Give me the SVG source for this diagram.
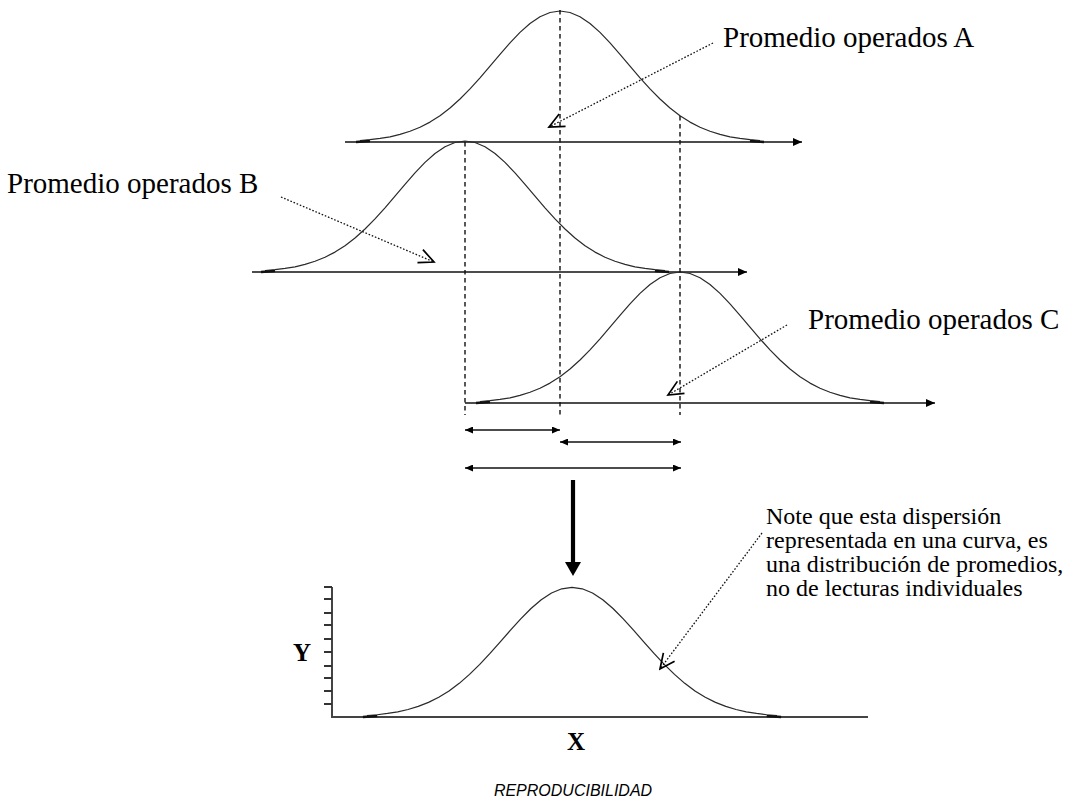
<svg xmlns="http://www.w3.org/2000/svg" xmlns:xlink="http://www.w3.org/1999/xlink" width="1067" height="799" viewBox="0 0 1067 799">
<style>
  .bg{fill:#ffffff}
  .curve{fill:none;stroke:#2a2a2a;stroke-width:1.2;stroke-linejoin:round}
  .tail{fill:none;stroke:#111;stroke-width:2.6}
  .axis{fill:none;stroke:#111;stroke-width:1.5}
  .axis2{fill:none;stroke:#444;stroke-width:2}
  .tick{fill:none;stroke:#333;stroke-width:1.8}
  .dash{fill:none;stroke:#111;stroke-width:1.4;stroke-dasharray:4.5 3.5}
  .dim{fill:none;stroke:#111;stroke-width:1.4}
  .leader{fill:none;stroke:#111;stroke-width:1.3;stroke-dasharray:1.6 1.8}
  text.serif{font-family:"Liberation Serif","Times New Roman",serif;fill:#000}
  .big{font-size:29px}
  .note{font-size:24px}
  .axl{font-size:25px;font-weight:bold}
  text.title{font-family:"Liberation Sans",Arial,sans-serif;font-size:16px;font-style:italic;fill:#000}
</style>
<defs>
  <path id="gauss" class="curve" d="M-200,-1.5 L-190,-2.3 -180,-3.6 -170,-5.2 -160,-7.6 -150,-10.7 -140,-14.8 -130,-19.9 -120,-26.3 -110,-34 -100,-43 -90,-53.1 -80,-64.2 -70,-75.9 -60,-87.7 -50,-99.2 -40,-109.6 -30,-118.5 -20,-125.3 -10,-129.5 0,-131 10,-129.5 20,-125.3 30,-118.5 40,-109.6 50,-99.2 60,-87.7 70,-75.9 80,-64.2 90,-53.1 100,-43 110,-34 120,-26.3 130,-19.9 140,-14.8 150,-10.7 160,-7.6 170,-5.2 180,-3.6 190,-2.3 200,-1.5"/>
  <path id="tails" class="tail" d="M-204,0 L-190,-1 M190,-1 L204,0"/>
  <marker id="tri" markerUnits="userSpaceOnUse" viewBox="0 0 9 8" refX="9" refY="4" markerWidth="9" markerHeight="8" orient="auto-start-reverse">
    <path d="M0,0 L9,4 L0,8 z" fill="#000"/>
  </marker>
  <marker id="triS" markerUnits="userSpaceOnUse" viewBox="0 0 8 7" refX="8" refY="3.5" markerWidth="8" markerHeight="7" orient="auto-start-reverse">
    <path d="M0,0 L8,3.5 L0,7 z" fill="#000"/>
  </marker>
  <marker id="open" markerUnits="userSpaceOnUse" viewBox="-17 -9 19 18" refX="0" refY="0" markerWidth="19" markerHeight="18" orient="auto">
    <path d="M-15,-7 L0,0 L-15,7" fill="none" stroke="#000" stroke-width="1.7" stroke-dasharray="none"/>
  </marker>
</defs>
<rect class="bg" x="0" y="0" width="1067" height="799"/>

<g id="curveA">
  <line class="axis" x1="345" y1="142" x2="802" y2="142" marker-end="url(#tri)"/>
  <use xlink:href="#gauss" href="#gauss" transform="translate(560,142)"/>
  <use xlink:href="#tails" href="#tails" transform="translate(560,142)"/>
</g>
<g id="curveB">
  <line class="axis" x1="252" y1="272" x2="747" y2="272" marker-end="url(#tri)"/>
  <use xlink:href="#gauss" href="#gauss" transform="translate(465,272)"/>
  <use xlink:href="#tails" href="#tails" transform="translate(465,272)"/>
</g>
<g id="curveC">
  <line class="axis" x1="465" y1="403" x2="935" y2="403" marker-end="url(#tri)"/>
  <use xlink:href="#gauss" href="#gauss" transform="translate(680,403)"/>
  <use xlink:href="#tails" href="#tails" transform="translate(680,403)"/>
</g>

<g id="guides">
  <line class="dash" x1="560" y1="10" x2="560" y2="415"/>
  <line class="dash" x1="465" y1="142" x2="465" y2="415"/>
  <line class="dash" x1="680" y1="116" x2="680" y2="415"/>
</g>

<g id="labelA"><text class="serif big" x="723" y="47">Promedio operados A</text></g>
<g id="labelB"><text class="serif big" x="7" y="193">Promedio operados B</text></g>
<g id="labelC"><text class="serif big" x="808" y="329">Promedio operados C</text></g>

<g id="noteText">
  <text class="serif note" x="766" y="524">Note que esta dispersión</text>
  <text class="serif note" x="766" y="548">representada en una curva, es</text>
  <text class="serif note" x="766" y="572">una distribución de promedios,</text>
  <text class="serif note" x="766" y="596">no de lecturas individuales</text>
</g>

<g id="resultChart">
  <line class="axis2" x1="332" y1="587" x2="332" y2="717"/>
  <line class="axis2" x1="331" y1="717" x2="868" y2="717"/>
  <path class="tick" d="M324,587H332 M324,599H332 M324,613H332 M324,625H332 M324,639H332 M324,652H332 M324,666H332 M324,678H332 M324,691H332 M324,704H332"/>
  <use xlink:href="#gauss" href="#gauss" transform="translate(572,717) scale(1.025,0.99)"/>
  <use xlink:href="#tails" href="#tails" transform="translate(572,717) scale(1.025,1)"/>
  <text class="serif axl" x="302" y="661" text-anchor="middle">Y</text>
  <text class="serif axl" x="576" y="750" text-anchor="middle">X</text>
</g>

<g id="titleText"><text class="title" x="573" y="796" text-anchor="middle">REPRODUCIBILIDAD</text></g>

<g id="connectors">
  <line class="dim" x1="465" y1="430" x2="560" y2="430" marker-start="url(#triS)" marker-end="url(#triS)"/>
  <line class="dim" x1="560" y1="442" x2="681" y2="442" marker-start="url(#triS)" marker-end="url(#triS)"/>
  <line class="dim" x1="465" y1="468" x2="681" y2="468" marker-start="url(#triS)" marker-end="url(#triS)"/>
  <line x1="573" y1="480" x2="573" y2="564" stroke="#000" stroke-width="4.2"/>
  <polygon points="565,562 581,562 573,576" fill="#000"/>
  <line class="leader" x1="713" y1="43" x2="549" y2="127" marker-end="url(#open)"/>
  <line class="leader" x1="281" y1="197" x2="434" y2="262" marker-end="url(#open)"/>
  <line class="leader" x1="787" y1="325" x2="668" y2="395" marker-end="url(#open)"/>
  <line class="leader" x1="762" y1="533" x2="660" y2="669" marker-end="url(#open)"/>
</g>
</svg>
